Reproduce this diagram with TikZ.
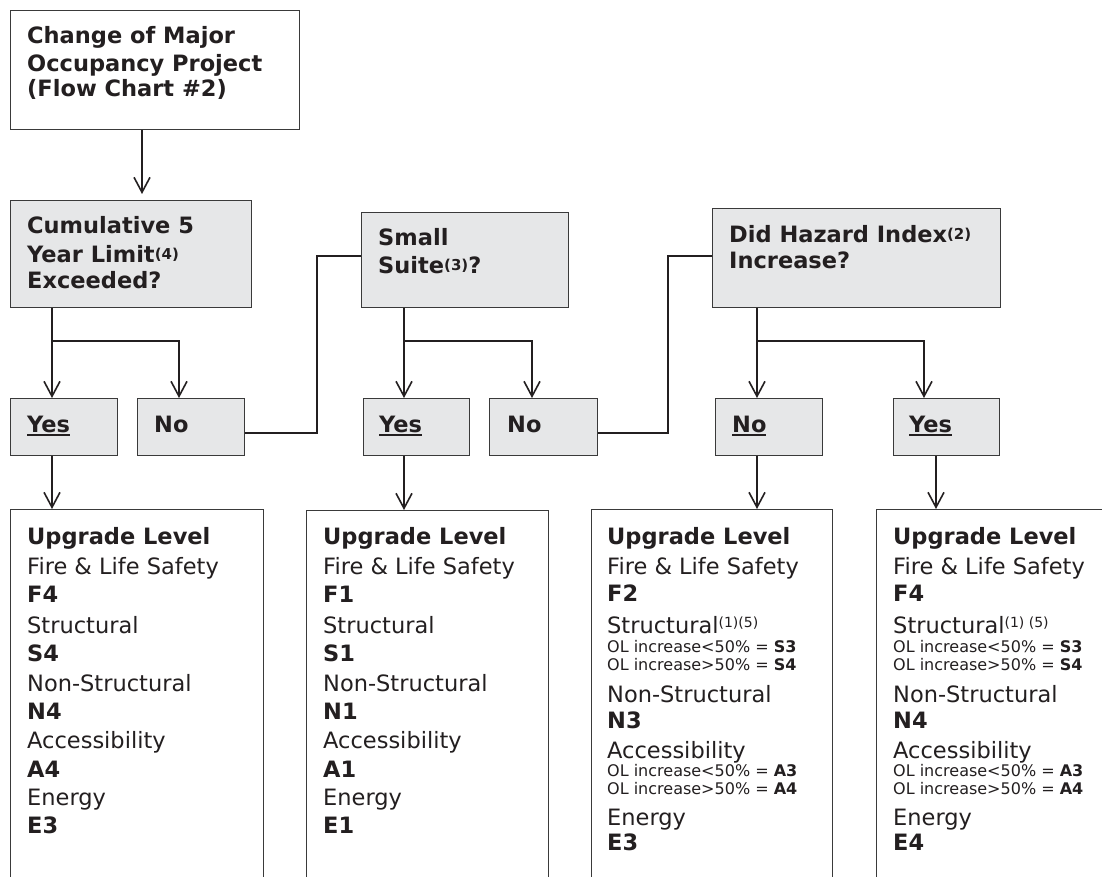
\documentclass[tikz,border=0pt]{standalone}
\usepackage{fontspec}
\setmainfont{DejaVu Sans}
\usetikzlibrary{arrows.meta}
\definecolor{ink}{HTML}{231F20}
\definecolor{boxfill}{HTML}{E6E7E8}
\definecolor{edge}{HTML}{3A3A3A}
\newcommand\fbig{\fontsize{22.5}{27}\selectfont}
\newcommand\fsml{\fontsize{16}{19}\selectfont}
\newcommand\supb[1]{\raisebox{3pt}{\fontsize{15}{15}\selectfont\bfseries #1}}
\newcommand\supr[1]{\raisebox{6pt}{\fontsize{14}{14}\selectfont #1}}
\newsavebox\ulbox
\newcommand\ulx[1]{\sbox\ulbox{#1}\rlap{\rule[-4pt]{\wd\ulbox}{1.8pt}}\usebox\ulbox}
\begin{document}
\begin{tikzpicture}[x=1pt,y=-1pt,
  qbox/.style={draw=edge, line width=1.3pt, fill=boxfill, inner sep=0pt, anchor=north west},
  wbox/.style={draw=edge, line width=1.3pt, fill=white, inner sep=0pt, anchor=north west},
  txt/.style={anchor=base west, inner sep=0pt, text=ink, font=\fbig},
  btxt/.style={txt, font=\fbig\bfseries},
  stxt/.style={anchor=base west, inner sep=0pt, text=ink, font=\fsml},
  conn/.style={draw=ink, line width=1.6pt},
  arr/.style={conn, -{Straight Barb[length=15pt,width=16pt]}}]
\useasboundingbox (0,0) rectangle (1102,877);
\clip (0,0) rectangle (1102,877);
\fill[white] (0,0) rectangle (1102,877);

% boxes
\node[wbox, minimum width=289pt, minimum height=119pt] (start) at (10,10) {};
\node[qbox, minimum width=241pt, minimum height=107pt] (q1) at (10,200) {};
\node[qbox, minimum width=207pt, minimum height=95pt] (q2) at (361,212) {};
\node[qbox, minimum width=288pt, minimum height=99pt] (q3) at (712,208) {};
\node[qbox, minimum width=107pt, minimum height=57pt] (y1) at (10,398) {};
\node[qbox, minimum width=107pt, minimum height=57pt] (n1) at (137,398) {};
\node[qbox, minimum width=106pt, minimum height=57pt] (y2) at (363,398) {};
\node[qbox, minimum width=108pt, minimum height=57pt] (n2) at (489,398) {};
\node[qbox, minimum width=107pt, minimum height=57pt] (n3) at (715,398) {};
\node[qbox, minimum width=106pt, minimum height=57pt] (y3) at (893,398) {};
\node[wbox, minimum width=253pt, minimum height=400pt] (r1) at (10,509) {};
\node[wbox, minimum width=242pt, minimum height=400pt] (r2) at (306,510) {};
\node[wbox, minimum width=241pt, minimum height=400pt] (r3) at (591,509) {};
\node[wbox, minimum width=260pt, minimum height=400pt] (r4) at (876,509) {};

% texts in top boxes
\node[btxt] (s1) at (27,44) {Change of Major};
\node[btxt] (s2) at (27,72) {Occupancy Project};
\node[btxt] (s3) at (27,97) {(Flow Chart \#2)};
\node[btxt] (q1a) at (27,234) {Cumulative 5};
\node[btxt] (q1b) at (27,262) {Year Limit\supb{(4)}};
\node[btxt] (q1c) at (27,288) {Exceeded?};
\node[btxt] (q2a) at (378,246) {Small};
\node[btxt] (q2b) at (378,273) {Suite\supb{(3)}?};
\node[btxt] (q3a) at (729,243) {Did Hazard Index\supb{(2)}};
\node[btxt] (q3b) at (729,269) {Increase?};
\node[btxt] (y1t) at (27,432) {\ulx{Yes}};
\node[btxt] (n1t) at (154,432) {No};
\node[btxt] (y2t) at (379,432) {\ulx{Yes}};
\node[btxt] (n2t) at (507,432) {No};
\node[btxt] (n3t) at (732,432) {\ulx{No}};
\node[btxt] (y3t) at (909,432) {\ulx{Yes}};

% result boxes
\foreach \py/\ptext [count=\i] in {544/{\bfseries Upgrade Level}, 574/Fire \& Life Safety, 602/{\bfseries F4}, 633/Structural, 661/{\bfseries S4}, 691/Non-Structural, 719/{\bfseries N4}, 748/Accessibility, 777/{\bfseries A4}, 805/Energy, 833/{\bfseries E3}}
  \node[txt] (r1t\i) at (27,\py) {\ptext};
\foreach \py/\ptext [count=\i] in {544/{\bfseries Upgrade Level}, 574/Fire \& Life Safety, 602/{\bfseries F1}, 633/Structural, 661/{\bfseries S1}, 691/Non-Structural, 719/{\bfseries N1}, 748/Accessibility, 777/{\bfseries A1}, 805/Energy, 833/{\bfseries E1}}
  \node[txt] (r2t\i) at (323,\py) {\ptext};

\foreach \py/\ptext [count=\i] in {544/{\bfseries Upgrade Level}, 574/Fire \& Life Safety, 601/{\bfseries F2}, 633/{Structural\supr{(1)(5)}}, 702/Non-Structural, 728/{\bfseries N3}, 758/Accessibility, 825/Energy, 850/{\bfseries E3}}
  \node[txt] (r3t\i) at (607,\py) {\ptext};
\node[stxt] (r3s1) at (607,652) {OL increase<50\% = \textbf{S3}};
\node[stxt] (r3s2) at (607,670) {OL increase>50\% = \textbf{S4}};
\node[stxt] (r3s3) at (607,776) {OL increase<50\% = \textbf{A3}};
\node[stxt] (r3s4) at (607,794) {OL increase>50\% = \textbf{A4}};

\foreach \py/\ptext [count=\i] in {544/{\bfseries Upgrade Level}, 574/Fire \& Life Safety, 601/{\bfseries F4}, 633/{Structural\supr{(1) (5)}}, 702/Non-Structural, 728/{\bfseries N4}, 758/Accessibility, 825/Energy, 850/{\bfseries E4}}
  \node[txt] (r4t\i) at (893,\py) {\ptext};
\node[stxt] (r4s1) at (893,652) {OL increase<50\% = \textbf{S3}};
\node[stxt] (r4s2) at (893,670) {OL increase>50\% = \textbf{S4}};
\node[stxt] (r4s3) at (893,776) {OL increase<50\% = \textbf{A3}};
\node[stxt] (r4s4) at (893,794) {OL increase>50\% = \textbf{A4}};

% connectors
\coordinate (a0) at (142,0);
\draw[arr, shorten >=6pt] (a0 |- start.south) -- (a0 |- q1.north);

\coordinate (j1) at (52,341); \coordinate (k1) at (179,341);
\draw[arr] (j1 |- q1.south) -- (j1 |- y1.north);
\draw[arr] (j1) -- (k1) -- (k1 |- n1.north);
\coordinate (c1) at (317,433); \coordinate (d1) at (317,256);
\draw[conn] (c1 -| n1.east) -- (c1) -- (d1) -- (d1 -| q2.west);

\coordinate (j2) at (404,341); \coordinate (k2) at (532,341);
\draw[arr] (j2 |- q2.south) -- (j2 |- y2.north);
\draw[arr] (j2) -- (k2) -- (k2 |- n2.north);
\coordinate (c2) at (668,433); \coordinate (d2) at (668,256);
\draw[conn] (c2 -| n2.east) -- (c2) -- (d2) -- (d2 -| q3.west);

\coordinate (j3) at (757,341); \coordinate (k3) at (924,341);
\draw[arr] (j3 |- q3.south) -- (j3 |- n3.north);
\draw[arr] (j3) -- (k3) -- (k3 |- y3.north);

\coordinate (m3) at (936,0);
\draw[arr] (j1 |- y1.south) -- (j1 |- r1.north);
\draw[arr] (j2 |- y2.south) -- (j2 |- r2.north);
\draw[arr] (j3 |- n3.south) -- (j3 |- r3.north);
\draw[arr] (m3 |- y3.south) -- (m3 |- r4.north);
\end{tikzpicture}
\end{document}
